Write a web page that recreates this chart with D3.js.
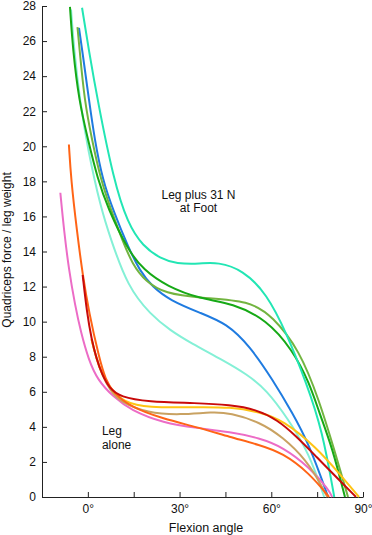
<!DOCTYPE html>
<html>
<head>
<meta charset="utf-8">
<script src="https://cdn.jsdelivr.net/npm/d3@7"></script>
<style>
  body { margin: 0; background: #fff; }
  text { font-family: "Liberation Sans", Arial, Helvetica, sans-serif; fill: #111; }
</style>
</head>
<body>
<div id="chart"></div>
<script>
// Axis values
var xTicks = [-15, 0, 15, 30, 45, 60, 75, 90];
var xLabelTicks = [0, 30, 60, 90];
var yTicks = [0, 2, 4, 6, 8, 10, 12, 14, 16, 18, 20, 22, 24, 26, 28];

// Curves, [flexion angle (deg), quadriceps force / leg weight]
// leg plus 31 N at foot
var aqua = [[-5.5,27.8],[-4.5,25.5],[-2.6,22.6],[0,19.8],[4.2,16.5],[7.5,14.7],[13.0,12.0],[20.5,10.4],[27.0,9.5],[33.5,8.8],[44.2,7.8],[52.0,7.0],[58.5,6.1],[65.3,4.5],[72.4,2.5],[77.3,0]];
var blue = [[-2.9,26.75],[-1.7,25.3],[0.4,22.6],[2.2,20.4],[4.8,18.1],[8.4,16.3],[13.3,14.2],[17.0,12.9],[21.0,12.0],[27.0,11.2],[36.7,10.5],[45.4,9.9],[53.0,8.6],[60.4,6.7],[66.9,4.8],[72.4,3.0],[78.6,0]];
var olive = [[-3.4,26.8],[-2.7,25.5],[-1.1,22.6],[1.3,20.4],[4.2,18.1],[7.5,16.4],[11.4,14.6],[14.5,13.3],[18.8,12.3],[25.3,11.6],[36.7,11.35],[53.0,11.2],[60.4,10.3],[69.2,8.4],[75.7,5.5],[80.6,2.7],[85.1,0]];
var green = [[-5.85,27.95],[-4.9,25.5],[-2.9,22.6],[0,20.4],[3.25,18.1],[6.5,16.5],[13.0,14.1],[18.2,12.95],[26.0,12.0],[36.7,11.3],[47.4,11.05],[58.5,10.1],[66.9,8.4],[72.5,6.5],[75.7,4.8],[79.9,2.85],[84.1,0]];
var teal = [[-1.9,27.9],[0.3,25.5],[3.2,22.6],[8.4,18.1],[13.0,15.6],[18.0,14.3],[23.7,13.6],[29.0,13.3],[36.7,13.3],[42.5,13.4],[50.7,12.95],[58.5,11.6],[65.0,9.35],[71.5,6.5],[76.7,3.8],[80.6,0]];
// leg alone
var pink = [[-9.0,17.35],[-7.8,15.2],[-6.2,12.95],[-4.2,10.95],[-2.3,9.4],[0.3,7.8],[3.2,6.67],[8.4,5.7],[14.0,4.96],[24.7,4.22],[35.7,3.93],[46.5,3.71],[56.2,3.36],[63.7,2.85],[72.4,1.71],[78.9,0.4],[79.9,0]];
var orange = [[-6.2,20.1],[-5.5,18.1],[-3.6,15.2],[-1.7,12.66],[0.4,10.5],[3.6,8.0],[5.8,6.67],[8.4,5.93],[14.0,5.13],[24.7,4.45],[35.7,3.99],[46.5,3.42],[56.2,2.97],[63.7,2.51],[72.4,1.37],[78.9,0]];
var tan = [[1.2,9.0],[2.8,7.9],[4.6,7.0],[7.5,6.0],[10.7,5.42],[19.5,4.79],[30.2,4.68],[40.9,4.85],[46.5,4.79],[56.2,4.28],[63.7,3.42],[71.5,2.11],[76.7,0.57],[78.3,0]];
var yellow = [[1.2,9.0],[2.8,7.9],[4.6,7.0],[7.5,6.15],[11.7,5.42],[19.5,5.08],[35.7,5.13],[46.5,5.13],[56.2,4.85],[63.7,4.39],[74.7,2.85],[83.2,1.14],[88.7,0]];
var red = [[-1.7,12.66],[-0.3,10.5],[1.2,9.0],[2.8,7.9],[4.6,7.0],[7.0,6.2],[10.7,5.7],[19.4,5.43],[35.6,5.36],[46.5,5.25],[55.0,5.0],[62.0,4.4],[68.0,3.5],[74.7,2.3],[83.2,0.8],[87.7,0]];

// Drawing order and colours
var curves = [aqua, blue, olive, green, teal, pink, tan, yellow, orange, red];
var curveColors = ["#84f0d6", "#1f7be0", "#72b440", "#16a916", "#22e6b4",
                   "#ec6cc6", "#c9a262", "#ffc414", "#ff6416", "#c80a0a"];

// Plotting vars
var width = 372, height = 535;
var margin = {top: 6, right: 9, bottom: 38, left: 42};

var svg = d3.select("#chart")
  .append("svg")
    .attr("width", width)
    .attr("height", height);

var x = d3.scaleLinear()
    .domain([-15, 90])
    .range([margin.left, width - margin.right]);

var y = d3.scaleLinear()
    .domain([0, 28])
    .range([height - margin.bottom, margin.top]);

// x-axis
var xAxis = d3.axisBottom(x)
    .tickValues(xTicks)
    .tickSizeInner(-5)
    .tickSizeOuter(0)
    .tickPadding(7)
    .tickFormat(function(d) { return xLabelTicks.indexOf(d) >= 0 ? d + "\u00b0" : ""; });

svg.append("g")
    .attr("class", "x")
    .attr("transform", "translate(0," + y(0) + ")")
    .call(xAxis);

// y-axis
var yAxis = d3.axisLeft(y)
    .tickValues(yTicks)
    .tickSizeInner(-5)
    .tickSizeOuter(0)
    .tickPadding(6);

svg.append("g")
    .attr("class", "y")
    .attr("transform", "translate(" + x(-15) + ",0)")
    .call(yAxis);

svg.selectAll(".x text, .y text")
    .style("font-size", "12px")
    .style("font-family", "'Liberation Sans', Arial, sans-serif");
svg.selectAll(".domain, .tick line").attr("stroke", "#222");

// axis titles
svg.append("text")
    .attr("x", 206)
    .attr("y", 532)
    .attr("text-anchor", "middle")
    .style("font-size", "12.5px")
    .text("Flexion angle");

svg.append("text")
    .attr("transform", "translate(11,250) rotate(-90)")
    .attr("text-anchor", "middle")
    .style("font-size", "12px")
    .text("Quadriceps force / leg weight");

// curves
var line = d3.line()
    .x(function(d) { return x(d[0]); })
    .y(function(d) { return y(d[1]); })
    .curve(d3.curveBasis);

svg.append("g")
  .selectAll("path")
  .data(curves)
  .enter()
  .append("path")
    .attr("d", line)
    .attr("fill", "none")
    .attr("stroke", function(d, i) { return curveColors[i]; })
    .attr("stroke-width", 2);

// annotations
svg.append("text")
    .attr("x", x(36.2)).attr("y", y(17.0))
    .attr("text-anchor", "middle")
    .style("font-size", "12px")
    .text("Leg plus 31 N");
svg.append("text")
    .attr("x", x(36.2)).attr("y", y(16.23))
    .attr("text-anchor", "middle")
    .style("font-size", "12px")
    .text("at Foot");
svg.append("text")
    .attr("x", x(4.6)).attr("y", y(3.53))
    .style("font-size", "12px")
    .text("Leg");
svg.append("text")
    .attr("x", x(4.6)).attr("y", y(2.73))
    .style("font-size", "12px")
    .text("alone");
</script>
</body>
</html>
